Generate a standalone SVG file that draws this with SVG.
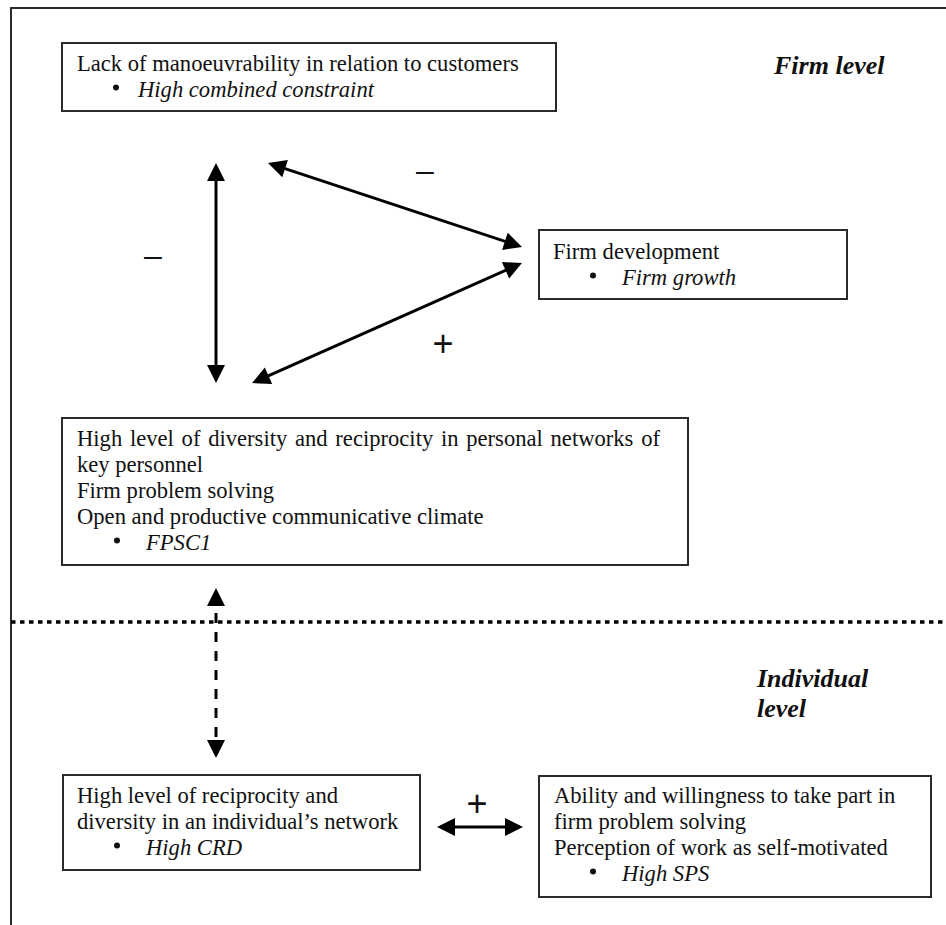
<svg xmlns="http://www.w3.org/2000/svg" width="946" height="925" viewBox="0 0 946 925">
  <style>
    .frame { fill: none; stroke: #2a2a2a; stroke-width: 2; }
    .box { fill: #ffffff; stroke: #2a2a2a; stroke-width: 2; }
    .txt { font-family: "Liberation Serif", "Times New Roman", serif; font-size: 22.6px; fill: #111; }
    .it { font-style: italic; }
    .bul { fill: #111; }
    .level { font-family: "Liberation Serif", "Times New Roman", serif; font-size: 26px; font-weight: bold; font-style: italic; fill: #111; }
    .sign { font-family: "Liberation Sans", Arial, sans-serif; fill: #111; text-anchor: middle; }
    .link { fill: none; stroke: #000; stroke-width: 3; }
    .dashed { stroke-dasharray: 10 9; }
    .divider { fill: none; stroke: #000; stroke-width: 3.5; stroke-dasharray: 4.5 4.5; }
  </style>
  <defs>
    <marker id="head" markerUnits="userSpaceOnUse" markerWidth="18" markerHeight="18" refX="12" refY="9" orient="auto-start-reverse" overflow="visible">
      <path d="M0,0 L18,9 L0,18 Z" fill="#000"/>
    </marker>
  </defs>

  <!-- page frame: top and left rules -->
  <path class="frame" d="M11,925 L11,8 L946,8"/>

  <!-- divider between firm level and individual level -->
  <line class="divider" x1="11" y1="622" x2="946" y2="622"/>

  <text class="level" x="774" y="74">Firm level</text>
  <text class="level" x="757" y="687">Individual</text>
  <text class="level" x="757" y="717">level</text>

  <g id="customers">
    <rect class="box" x="62" y="43" width="494" height="68"/>
    <text class="txt" x="77" y="71">Lack of manoeuvrability in relation to customers</text>
    <circle class="bul" cx="116" cy="87.5" r="3"/>
    <text class="txt it" x="138" y="97">High combined constraint</text>
  </g>

  <g id="firm-development">
    <rect class="box" x="539" y="230" width="308" height="69"/>
    <text class="txt" x="553" y="259">Firm development</text>
    <circle class="bul" cx="593" cy="275.5" r="3"/>
    <text class="txt it" x="622" y="285">Firm growth</text>
  </g>

  <g id="firm-networks">
    <rect class="box" x="62" y="418" width="626" height="147"/>
    <text class="txt" x="77" y="446" word-spacing="2.1">High level of diversity and reciprocity in personal networks of</text>
    <text class="txt" x="77" y="472">key personnel</text>
    <text class="txt" x="77" y="498">Firm problem solving</text>
    <text class="txt" x="77" y="524">Open and productive communicative climate</text>
    <circle class="bul" cx="117" cy="540.5" r="3"/>
    <text class="txt it" x="146" y="550">FPSC1</text>
  </g>

  <g id="individual-network">
    <rect class="box" x="63" y="775" width="357" height="95"/>
    <text class="txt" x="77" y="803">High level of reciprocity and</text>
    <text class="txt" x="77" y="829">diversity in an individual’s network</text>
    <circle class="bul" cx="117" cy="845.5" r="3"/>
    <text class="txt it" x="146" y="855">High CRD</text>
  </g>

  <g id="individual-participation">
    <rect class="box" x="539" y="776" width="392" height="121"/>
    <text class="txt" x="554" y="803">Ability and willingness to take part in</text>
    <text class="txt" x="554" y="829">firm problem solving</text>
    <text class="txt" x="554" y="855">Perception of work as self-motivated</text>
    <circle class="bul" cx="593" cy="871.5" r="3"/>
    <text class="txt it" x="622" y="881">High SPS</text>
  </g>

  <g id="connectors">
    <line class="link" x1="216" y1="169" x2="216" y2="377" marker-start="url(#head)" marker-end="url(#head)"/>
    <line class="link" x1="273.7" y1="164.9" x2="516.3" y2="245.1" marker-start="url(#head)" marker-end="url(#head)"/>
    <line class="link" x1="257.5" y1="380.6" x2="516.5" y2="265.4" marker-start="url(#head)" marker-end="url(#head)"/>
    <line class="link dashed" x1="216" y1="594" x2="216" y2="752" marker-start="url(#head)" marker-end="url(#head)"/>
    <line class="link" x1="443" y1="827" x2="517" y2="827" marker-start="url(#head)" marker-end="url(#head)"/>

    <text class="sign" x="425" y="181" font-size="32">–</text>
    <text class="sign" x="153" y="266" font-size="32">–</text>
    <text class="sign" x="443" y="356" font-size="36">+</text>
    <text class="sign" x="477" y="816" font-size="36">+</text>
  </g>
</svg>
